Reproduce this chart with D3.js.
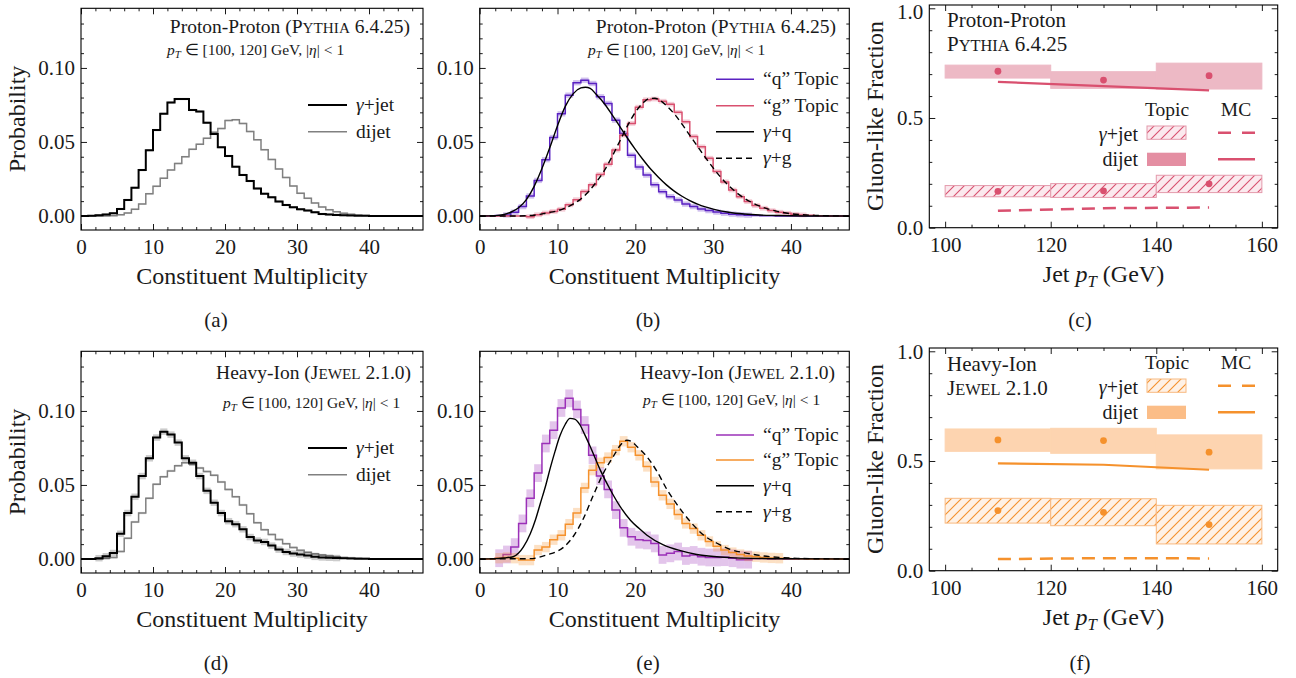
<!DOCTYPE html>
<html>
<head>
<meta charset="utf-8">
<script src="https://cdn.jsdelivr.net/npm/d3@7"></script>
<style>
  body { margin: 0; background: #fff; }
  svg text { font-family: "Liberation Serif", "Times New Roman", serif; fill: #1a1a1a; }
</style>
</head>
<body>
<svg id="fig" width="1296" height="678"></svg>
<script>
// ---- data: multiplicity histograms (bin k = [k, k+1)) ----
var ppJetMult = [0, 0.0002, 0.0005, 0.001, 0.0018, 0.0047, 0.0108, 0.019, 0.031, 0.0444, 0.058, 0.069, 0.0766, 0.079, 0.079, 0.0716,
  0.0705, 0.063, 0.0554, 0.0464, 0.0405, 0.0333, 0.0277, 0.0236, 0.0185, 0.015, 0.0126, 0.0097, 0.0074, 0.0059, 0.0045, 0.0036,
  0.0025, 0.0013, 0.001, 0.0007, 0.0005, 0.0003, 0.0002, 0.0001, 0, 0, 0, 0, 0, 0, 0, 0];
var ppDijetMult = [0, 0, 0, 0, 0.0002, 0.0008, 0.002, 0.0045, 0.0081, 0.015, 0.020, 0.0255, 0.031, 0.0355, 0.040, 0.045,
  0.0485, 0.0525, 0.0565, 0.059, 0.0645, 0.065, 0.0625, 0.057, 0.0514, 0.0448, 0.0382, 0.0318, 0.026, 0.0202, 0.0153, 0.0119,
  0.0087, 0.006, 0.0042, 0.0028, 0.0018, 0.0011, 0.0006, 0.0003, 0.0002, 0.0001, 0, 0, 0, 0, 0, 0];
var ppQTopic = [0, 0, 0.0003, 0.0007, 0.0025, 0.0063, 0.0135, 0.024, 0.038, 0.053, 0.069, 0.0816, 0.09, 0.0917, 0.0895, 0.0805,
  0.076, 0.0647, 0.0557, 0.041, 0.033, 0.0276, 0.021, 0.0164, 0.013, 0.0108, 0.008, 0.0063, 0.0047, 0.0036, 0.0026, 0.0018,
  0.0012, 0.0008, 0.0005, 0.0003, 0.0002, 0.0001, 0, 0, 0, 0, 0, 0, 0, 0, 0, 0];
var ppGTopic = [0, 0, 0, 0, 0, 0, -0.0005, 0.0008, 0.002, 0.003, 0.0045, 0.0075, 0.011, 0.0165, 0.021, 0.028,
  0.035, 0.0445, 0.0546, 0.0625, 0.0735, 0.0785, 0.079, 0.0775, 0.0755, 0.070, 0.0636, 0.0537, 0.0467, 0.039, 0.030, 0.023,
  0.0175, 0.013, 0.0097, 0.007, 0.0052, 0.0036, 0.0025, 0.0018, 0.0011, 0.0007, 0.0004, 0.0002, 0.0001, 0, 0, 0];
var ppGammaQ = [[0, 0], [2, 0.0002], [3, 0.0008], [4, 0.0025], [5, 0.0055], [6, 0.011], [7, 0.02], [8, 0.032], [9, 0.046],
  [10, 0.061], [11, 0.074], [12, 0.0825], [13, 0.0865], [13.6, 0.087], [14.2, 0.0862], [15, 0.082], [16, 0.076], [17, 0.0685],
  [18, 0.0605], [19, 0.0525], [20, 0.045], [21, 0.038], [22, 0.0315], [23, 0.026], [24, 0.021], [25, 0.0168], [26, 0.0133],
  [27, 0.0104], [28, 0.008], [29, 0.0061], [30, 0.0046], [32, 0.0025], [34, 0.0013], [36, 0.0006], [38, 0.0003], [40, 0.0001],
  [42, 0], [47.5, 0]];
var ppGammaG = [[0, 0], [5, 0], [7, 0.0005], [8.6, 0.002], [10, 0.0035], [10.8, 0.005], [12, 0.008], [13, 0.0115], [14, 0.0165],
  [15, 0.023], [16, 0.0305], [17, 0.04], [18, 0.0505], [19, 0.061], [20, 0.07], [21, 0.0765], [21.8, 0.0793], [22.5, 0.0795],
  [23.2, 0.078], [24, 0.0745], [25, 0.069], [26, 0.062], [27, 0.0545], [28, 0.047], [29, 0.0395], [30, 0.0325], [31, 0.026],
  [32, 0.0205], [33, 0.0158], [34, 0.012], [35, 0.009], [36, 0.0066], [37, 0.0048], [38, 0.0034], [39, 0.0023], [40, 0.0015],
  [41, 0.001], [43, 0.0004], [45, 0.0001], [47.5, 0]];

var hiJetMult = [0, 0, 0.0005, 0.0018, 0.004, 0.017, 0.031, 0.042, 0.056, 0.068, 0.082, 0.086, 0.084, 0.0786, 0.068, 0.065,
  0.056, 0.046, 0.038, 0.031, 0.0255, 0.0235, 0.020, 0.0148, 0.0124, 0.0115, 0.009, 0.0063, 0.0047, 0.0036, 0.003, 0.0023,
  0.0014, 0.001, 0.0008, 0.0006, 0.0004, 0.0003, 0.0002, 0.0001, 0, 0, 0, 0, 0, 0, 0, 0];
var hiDijetMult = [0, 0, 0, 0.0005, 0.001, 0.005, 0.014, 0.025, 0.031, 0.041, 0.0505, 0.0555, 0.0595, 0.063, 0.065, 0.064,
  0.0615, 0.059, 0.0565, 0.052, 0.047, 0.042, 0.0365, 0.0305, 0.0245, 0.0198, 0.0165, 0.0131, 0.0103, 0.0077, 0.0058, 0.0045,
  0.0035, 0.0027, 0.002, 0.0015, 0.001, 0.0007, 0.0005, 0.0003, 0.0002, 0.0001, 0.0001, 0, 0, 0, 0, 0];
var hiQTopic = [0, 0, 0.0005, 0.003, 0.008, 0.024, 0.041, 0.058, 0.078, 0.087, 0.102, 0.1085, 0.101, 0.0905, 0.070, 0.056,
  0.047, 0.033, 0.021, 0.015, 0.013, 0.0125, 0.0105, 0.0027, 0.0038, 0.005, 0.002, 0.0027, 0.0015, 0.001, 0.001, 0.0012,
  0.0005, -0.0005, -0.0005, 0.0001, 0.0003, 0, 0.0002, 0, 0, 0.0001, 0, 0, 0, 0, 0, 0];
var hiGTopic = [0, 0, 0.0005, 0.001, 0.0005, -0.0008, -0.0008, 0.006, 0.008, 0.013, 0.016, 0.0235, 0.031, 0.048, 0.06, 0.065,
  0.0685, 0.0735, 0.0795, 0.0755, 0.070, 0.0625, 0.052, 0.043, 0.0372, 0.030, 0.024, 0.0205, 0.016, 0.0118, 0.0085, 0.006,
  0.0043, 0.003, 0.002, 0.0015, 0.001, 0.0007, 0.0005, 0.0003, 0.0002, 0.0001, 0, 0, 0, 0, 0, 0];
var hiGammaQ = [[0, 0], [2, 0.0002], [3, 0.0006], [4.3, 0.0015], [5, 0.004], [5.6, 0.008], [6.5, 0.017], [7.2, 0.027],
  [7.8, 0.0376], [8.5, 0.05], [9.1, 0.062], [9.7, 0.073], [10.3, 0.083], [11, 0.091], [11.6, 0.095], [12.2, 0.0945],
  [12.9, 0.0905], [13.5, 0.084], [14.2, 0.076], [15.5, 0.060], [16.8, 0.0466], [18.1, 0.035], [19.4, 0.026], [20.5, 0.0205],
  [21.5, 0.016], [23.6, 0.0095], [25.8, 0.0056], [27.9, 0.003], [30.1, 0.0016], [32.2, 0.0009], [35, 0.0004], [40, 0.0001],
  [47.5, 0]];
var hiGammaG = [[0, 0], [6.5, 0.0002], [8.6, 0.0027], [10.8, 0.008], [12, 0.015], [13.3, 0.027], [14.6, 0.043], [15.9, 0.058],
  [17.2, 0.0695], [18.1, 0.077], [18.9, 0.0802], [19.5, 0.0795], [20.2, 0.076], [21.5, 0.069], [22.8, 0.059], [24.1, 0.0466],
  [25.4, 0.0365], [27.1, 0.025], [28.8, 0.016], [30.5, 0.0106], [32.2, 0.0065], [34.4, 0.0038], [36.5, 0.002], [38.7, 0.001],
  [40.8, 0.0004], [44, 0.0001], [47.5, 0]];

// ---- data: gluon-like fractions per jet pT bin ----
var ptEdges = [100, 120, 140, 160];
var ptCenters = [110, 130, 150];
var ppDijetLo = [0.682, 0.635, 0.632], ppDijetHi = [0.741, 0.711, 0.750], ppDijetVal = [0.713, 0.673, 0.693];
var ppJetLo = [0.141, 0.138, 0.160], ppJetHi = [0.192, 0.201, 0.239], ppJetVal = [0.166, 0.168, 0.200];
var ppDijetMC = [0.665, 0.645, 0.626], ppJetMC = [0.077, 0.089, 0.092];
var hiDijetLo = [0.544, 0.535, 0.464], hiDijetHi = [0.646, 0.649, 0.619], hiDijetVal = [0.596, 0.593, 0.540];
var hiJetLo = [0.217, 0.205, 0.122], hiJetHi = [0.330, 0.328, 0.298], hiJetVal = [0.274, 0.266, 0.210];
var hiDijetMC = [0.489, 0.483, 0.460], hiJetMC = [0.053, 0.057, 0.056];

var multTicks = [0, 10, 20, 30, 40];
var probTicks = [0, 0.05, 0.10];
var ptTicks = [100, 120, 140, 160];
var fracTicks = [0, 0.5, 1.0];
var multMinor = [2, 4, 6, 8, 12, 14, 16, 18, 22, 24, 26, 28, 32, 34, 36, 38, 42, 44, 46];
var probMinor = [0.01, 0.02, 0.03, 0.04, 0.06, 0.07, 0.08, 0.09, 0.11, 0.12, 0.13];
var ptMinor = [105, 110, 115, 125, 130, 135, 145, 150, 155];
var fracMinor = [0.1, 0.2, 0.3, 0.4, 0.6, 0.7, 0.8, 0.9];

var FONT = '"Liberation Serif", "Times New Roman", serif';
var svg = d3.select("#fig");
var defs = svg.append("defs");

// text with italic / sub / small caps pieces
function richText(parent, x, y, parts, size, anchor) {
    var t = parent.append("text").attr("x", x).attr("y", y)
        .attr("font-size", size).attr("text-anchor", anchor || "start");
    var sh = size * 0.22, shifted = false;
    parts.forEach(function(p) {
        var s = t.append("tspan").text(p.t);
        if (p.i) s.attr("font-style", "italic");
        if (p.sc) s.attr("font-size", size * 0.78);
        if (p.sub) { s.attr("font-size", size * 0.7).attr("dy", sh); shifted = true; }
        else if (shifted) { s.attr("dy", -sh); shifted = false; }
    });
    return t;
}

function drawFrame(g, x, y, xMajor, xMinor, yMajor, yMinor, yFmt) {
    var xr = x.range(), yr = y.range();
    function style(a) {
        a.attr("font-size", 21).attr("font-family", FONT);
        a.select(".domain").remove();
        a.selectAll("line").attr("stroke", "#000").attr("stroke-width", 0.9);
        a.selectAll("text").attr("fill", "#1a1a1a");
    }
    g.append("g").attr("transform", "translate(0," + yr[0] + ")")
        .call(d3.axisBottom(x).tickValues(xMajor).tickSizeInner(-6).tickSizeOuter(0).tickPadding(9).tickFormat(d3.format("d"))).call(style);
    g.append("g").attr("transform", "translate(0," + yr[0] + ")")
        .call(d3.axisBottom(x).tickValues(xMinor).tickSizeInner(-3).tickSizeOuter(0).tickFormat("")).call(style);
    g.append("g").attr("transform", "translate(0," + yr[1] + ")")
        .call(d3.axisTop(x).tickValues(xMajor).tickSizeInner(-6).tickSizeOuter(0).tickFormat("")).call(style);
    g.append("g").attr("transform", "translate(0," + yr[1] + ")")
        .call(d3.axisTop(x).tickValues(xMinor).tickSizeInner(-3).tickSizeOuter(0).tickFormat("")).call(style);
    g.append("g").attr("class", "yticks").attr("transform", "translate(" + xr[0] + ",0)")
        .call(d3.axisLeft(y).tickValues(yMajor).tickSizeInner(-6).tickSizeOuter(0).tickPadding(6).tickFormat(yFmt)).call(style);
    g.append("g").attr("transform", "translate(" + xr[0] + ",0)")
        .call(d3.axisLeft(y).tickValues(yMinor).tickSizeInner(-3).tickSizeOuter(0).tickFormat("")).call(style);
    g.append("g").attr("transform", "translate(" + xr[1] + ",0)")
        .call(d3.axisRight(y).tickValues(yMajor).tickSizeInner(-6).tickSizeOuter(0).tickFormat("")).call(style);
    g.append("g").attr("transform", "translate(" + xr[1] + ",0)")
        .call(d3.axisRight(y).tickValues(yMinor).tickSizeInner(-3).tickSizeOuter(0).tickFormat("")).call(style);
    g.append("rect").attr("x", xr[0]).attr("y", yr[1]).attr("width", xr[1] - xr[0]).attr("height", yr[0] - yr[1])
        .attr("fill", "none").attr("stroke", "#000").attr("stroke-width", 1.1);
}

function clipFor(id, x, y) {
    defs.append("clipPath").attr("id", id).append("rect")
        .attr("x", x.range()[0]).attr("y", y.range()[1])
        .attr("width", x.range()[1] - x.range()[0]).attr("height", y.range()[0] - y.range()[1]);
    return "url(#" + id + ")";
}

function drawHist(g, x, y, vals, err, color, lw, bandOpacity) {
    if (err > 0) {
        // band only where the bin has content
        var filled = vals.map(function(v, i) { return { i: i, v: v }; })
            .filter(function(d) { return Math.abs(d.v) >= 0.0005; });
        g.append("g").selectAll("rect").data(filled).join("rect")
            .attr("x", function(d) { return x(d.i); })
            .attr("width", function(d) { return x(d.i + 1) - x(d.i); })
            .attr("y", function(d) { return y(d.v + err); })
            .attr("height", function(d) { return y(d.v - err) - y(d.v + err); })
            .attr("fill", color).attr("opacity", bandOpacity);
    }
    var pts = vals.map(function(v, i) { return [i, v]; });
    pts.push([vals.length + 1, vals[vals.length - 1]]);
    g.append("path")
        .attr("d", d3.line().x(function(d) { return x(d[0]); }).y(function(d) { return y(d[1]); }).curve(d3.curveStepAfter)(pts))
        .attr("fill", "none").attr("stroke", color).attr("stroke-width", lw);
}

function drawCurve(g, x, y, pts, dash) {
    g.append("path")
        .attr("d", d3.line().x(function(d) { return x(d[0]); }).y(function(d) { return y(d[1]); }).curve(d3.curveMonotoneX)(pts))
        .attr("fill", "none").attr("stroke", "#000").attr("stroke-width", 1.4)
        .attr("stroke-dasharray", dash ? "6,4" : null);
}

function legendLine(g, x0, x1, yy, color, lw, dash, label, size) {
    g.append("line").attr("x1", x0).attr("x2", x1).attr("y1", yy).attr("y2", yy)
        .attr("stroke", color).attr("stroke-width", lw).attr("stroke-dasharray", dash || null);
    if (label) richText(g, x1 + 9, yy + 6, label, size || 19.5);
}

var gammaJet = [{ t: "γ", i: true }, { t: "+jet" }];
var gammaQ = [{ t: "γ", i: true }, { t: "+q" }];
var gammaG = [{ t: "γ", i: true }, { t: "+g" }];
var ptLine = [{ t: "p", i: true }, { t: "T", i: true, sub: true }, { t: " ∈ [100, 120] GeV, |" }, { t: "η", i: true }, { t: "| < 1" }];
var pythia = [{ t: "P" }, { t: "YTHIA", sc: true }, { t: " 6.4.25" }];
var jewel = [{ t: "J" }, { t: "EWEL", sc: true }, { t: " 2.1.0" }];

function multScales(left, right, off) {
    return {
        x: d3.scaleLinear().domain([0, 47.5]).range([left, right]),
        y: d3.scaleLinear().domain([-0.0095, 0.1403]).range([230 + off, 8.3 + off])
    };
}
function fracScales(off) {
    return {
        x: d3.scaleLinear().domain([97, 163]).range([929.3, 1277.7]),
        y: d3.scaleLinear().domain([0, 1.015]).range([227.7 + off, 5 + off])
    };
}

var fmt2 = d3.format(".2f"), fmt1 = d3.format(".1f");

function multLabels(g, s, withY, off) {
    var xr = s.x.range();
    g.append("text").attr("x", (xr[0] + xr[1]) / 2).attr("y", 284 + off).attr("text-anchor", "middle")
        .attr("font-size", 24).text("Constituent Multiplicity");
    if (withY) {
        g.append("text").attr("transform", "translate(25," + (119 + off) + ") rotate(-90)")
            .attr("text-anchor", "middle").attr("font-size", 24).text("Probability");
    }
}
function caption(col, off, label) {
    svg.append("text").attr("x", 216 + col * 432).attr("y", 327 + off).attr("text-anchor", "middle")
        .attr("font-size", 21).text(label);
}

// ---- (a) and (d): gamma+jet vs dijet ----
function panelJetDijet(left, right, off, jet, dijet, jetErr, dijetErr, header) {
    var s = multScales(left, right, off);
    var g = svg.append("g");
    var pg = g.append("g").attr("clip-path", clipFor("clip" + left + off, s.x, s.y));
    drawHist(pg, s.x, s.y, dijet, dijetErr, "#808080", 1.5, 0.25);
    drawHist(pg, s.x, s.y, jet, jetErr, "#000", 2, 0.2);
    drawFrame(g, s.x, s.y, multTicks, multMinor, probTicks, probMinor, fmt2);
    header(g);
    legendLine(g, 308, 347, 105 + off, "#000", 2, null, gammaJet);
    legendLine(g, 308, 347, 131.7 + off, "#808080", 1.5, null, [{ t: "dijet" }]);
    multLabels(g, s, true, off);
}

// ---- (b) and (e): topics vs gamma+q / gamma+g ----
function panelTopics(left, right, off, q, gt, gq, gg, qErr, gErr, qColor, gColor, legYs, header) {
    var s = multScales(left, right, off);
    var g = svg.append("g");
    var pg = g.append("g").attr("clip-path", clipFor("clip" + left + off, s.x, s.y));
    drawHist(pg, s.x, s.y, q, qErr, qColor, 1.5, 0.28);
    drawHist(pg, s.x, s.y, gt, gErr, gColor, 1.5, 0.28);
    drawCurve(pg, s.x, s.y, gq, false);
    drawCurve(pg, s.x, s.y, gg, true);
    drawFrame(g, s.x, s.y, multTicks, multMinor, probTicks, probMinor, fmt2);
    header(g);
    legendLine(g, 716, 754, legYs[0], qColor, 1.5, null, [{ t: "“q” Topic" }]);
    legendLine(g, 716, 754, legYs[1], gColor, 1.5, null, [{ t: "“g” Topic" }]);
    legendLine(g, 716, 754, legYs[2], "#000", 1.5, null, gammaQ);
    legendLine(g, 716, 754, legYs[3], "#000", 1.5, "6,4", gammaG);
    multLabels(g, s, false, off);
}

panelJetDijet(81, 423, 0, ppJetMult, ppDijetMult, 0.0008, 0.0006, function(g) {
    richText(g, 410, 33, [{ t: "Proton-Proton (" }].concat(pythia).concat([{ t: ")" }]), 19.5, "end");
    richText(g, 167, 55, ptLine, 15.5);
});
panelTopics(479.7, 849.3, 0, ppQTopic, ppGTopic, ppGammaQ, ppGammaG, 0.0018, 0.0016, "#5a22c2", "#d9506f",
    [79.3, 105.7, 131.7, 158.3], function(g) {
        richText(g, 836, 33, [{ t: "Proton-Proton (" }].concat(pythia).concat([{ t: ")" }]), 19.5, "end");
        richText(g, 588, 55, ptLine, 15.5);
    });
panelJetDijet(81, 423, 343, hiJetMult, hiDijetMult, 0.0022, 0.0008, function(g) {
    richText(g, 411, 379, [{ t: "Heavy-Ion (" }].concat(jewel).concat([{ t: ")" }]), 19.5, "end");
    richText(g, 223, 408, ptLine, 15.5);
});
panelTopics(479.7, 849.3, 343, hiQTopic, hiGTopic, hiGammaQ, hiGammaG, 0.006, 0.0035, "#9b30b8", "#f5912c",
    [435, 460, 485.7, 511.7], function(g) {
        richText(g, 835, 379, [{ t: "Heavy-Ion (" }].concat(jewel).concat([{ t: ")" }]), 19.5, "end");
        richText(g, 643, 405, ptLine, 15.5);
    });

// ---- (c) and (f): gluon-like fractions ----
function hatch(id, color, bg) {
    var p = defs.append("pattern").attr("id", id).attr("patternUnits", "userSpaceOnUse")
        .attr("width", 10).attr("height", 10);
    p.append("rect").attr("width", 10).attr("height", 10).attr("fill", bg);
    p.append("path").attr("d", "M-1,11 L11,-1 M-6,6 L6,-6 M4,16 L16,4")
        .attr("stroke", color).attr("stroke-width", 1.1).attr("fill", "none");
    return "url(#" + id + ")";
}

function panelFraction(off, d, c, header, legTop) {
    var s = fracScales(off);
    var g = svg.append("g");
    var hatchFill = hatch("hatch" + off, c.line, c.hatchBg);
    var idx = [0, 1, 2];
    g.append("g").selectAll("rect").data(idx).join("rect")
        .attr("x", function(i) { return s.x(ptEdges[i]); })
        .attr("width", function(i) { return s.x(ptEdges[i + 1]) - s.x(ptEdges[i]); })
        .attr("y", function(i) { return s.y(d.dijetHi[i]); })
        .attr("height", function(i) { return s.y(d.dijetLo[i]) - s.y(d.dijetHi[i]); })
        .attr("fill", c.box).attr("stroke", c.box).attr("stroke-width", 1);
    g.append("g").selectAll("rect").data(idx).join("rect")
        .attr("x", function(i) { return s.x(ptEdges[i]); })
        .attr("width", function(i) { return s.x(ptEdges[i + 1]) - s.x(ptEdges[i]); })
        .attr("y", function(i) { return s.y(d.jetHi[i]); })
        .attr("height", function(i) { return s.y(d.jetLo[i]) - s.y(d.jetHi[i]); })
        .attr("fill", hatchFill).attr("stroke", c.edge).attr("stroke-width", 1);
    var line = d3.line().x(function(v, i) { return s.x(ptCenters[i]); }).y(function(v) { return s.y(v); });
    g.append("path").attr("d", line(d.dijetMC)).attr("fill", "none").attr("stroke", c.line).attr("stroke-width", 2.2);
    g.append("path").attr("d", line(d.jetMC)).attr("fill", "none").attr("stroke", c.line).attr("stroke-width", 2.5)
        .attr("stroke-dasharray", "13,8");
    g.append("g").selectAll("circle").data(d.dijetVal.concat(d.jetVal)).join("circle")
        .attr("cx", function(v, i) { return s.x(ptCenters[i % 3]); })
        .attr("cy", function(v) { return s.y(v); })
        .attr("r", 3.4).attr("fill", c.line);
    drawFrame(g, s.x, s.y, ptTicks, ptMinor, fracTicks, fracMinor, fmt1);
    // keep the top "1.0" label inside the page
    if (off === 0) g.select(".yticks").selectAll(".tick text").filter(function(v) { return v === 1; }).attr("dy", "0.5em");
    header(g);
    // legend
    var t = legTop;
    g.append("text").attr("x", 1167).attr("y", t).attr("text-anchor", "middle").attr("font-size", 19.5).attr("fill", "#444").text("Topic");
    g.append("text").attr("x", 1236).attr("y", t).attr("text-anchor", "middle").attr("font-size", 19.5).attr("fill", "#444").text("MC");
    richText(g, 1138, t + 25, gammaJet, 20, "end").attr("fill", "#000");
    richText(g, 1138, t + 50, [{ t: "dijet" }], 20, "end").attr("fill", "#000");
    g.append("rect").attr("x", 1147).attr("y", t + 10).attr("width", 39).attr("height", 13.3)
        .attr("fill", hatchFill).attr("stroke", c.edge).attr("stroke-width", 1);
    g.append("rect").attr("x", 1147).attr("y", t + 36.7).attr("width", 39).attr("height", 13.3)
        .attr("fill", c.swatch);
    g.append("line").attr("x1", 1218).attr("x2", 1255).attr("y1", t + 16.7).attr("y2", t + 16.7)
        .attr("stroke", c.line).attr("stroke-width", 2.5).attr("stroke-dasharray", "13,11");
    g.append("line").attr("x1", 1218).attr("x2", 1255).attr("y1", t + 43.3).attr("y2", t + 43.3)
        .attr("stroke", c.line).attr("stroke-width", 2.5);
    // axis labels
    richText(g, 1103.5, 282 + off, [{ t: "Jet " }, { t: "p", i: true }, { t: "T", i: true, sub: true }, { t: " (GeV)" }], 24, "middle");
    g.append("text").attr("transform", "translate(883," + (116 + off) + ") rotate(-90)")
        .attr("text-anchor", "middle").attr("font-size", 24).text("Gluon-like Fraction");
}

panelFraction(0, {
    dijetLo: ppDijetLo, dijetHi: ppDijetHi, dijetVal: ppDijetVal,
    jetLo: ppJetLo, jetHi: ppJetHi, jetVal: ppJetVal, dijetMC: ppDijetMC, jetMC: ppJetMC
}, { line: "#d9506f", box: "#edb9c5", swatch: "#e48ea2", edge: "#e49aac", hatchBg: "#fbe9ee" }, function(g) {
    g.append("text").attr("x", 947).attr("y", 27).attr("font-size", 21).attr("fill", "#333").text("Proton-Proton");
    richText(g, 947, 51, pythia, 21).attr("fill", "#111");
}, 116);

panelFraction(343, {
    dijetLo: hiDijetLo, dijetHi: hiDijetHi, dijetVal: hiDijetVal,
    jetLo: hiJetLo, jetHi: hiJetHi, jetVal: hiJetVal, dijetMC: hiDijetMC, jetMC: hiJetMC
}, { line: "#f5912c", box: "#fdd4b0", swatch: "#fbbd87", edge: "#f8b980", hatchBg: "#fef1e5" }, function(g) {
    g.append("text").attr("x", 947).attr("y", 371).attr("font-size", 21).attr("fill", "#333").text("Heavy-Ion");
    richText(g, 947, 395, jewel, 21).attr("fill", "#111");
}, 369);

caption(0, 0, "(a)"); caption(1, 0, "(b)"); caption(2, 0, "(c)");
caption(0, 343, "(d)"); caption(1, 343, "(e)"); caption(2, 343, "(f)");
</script>
</body>
</html>
